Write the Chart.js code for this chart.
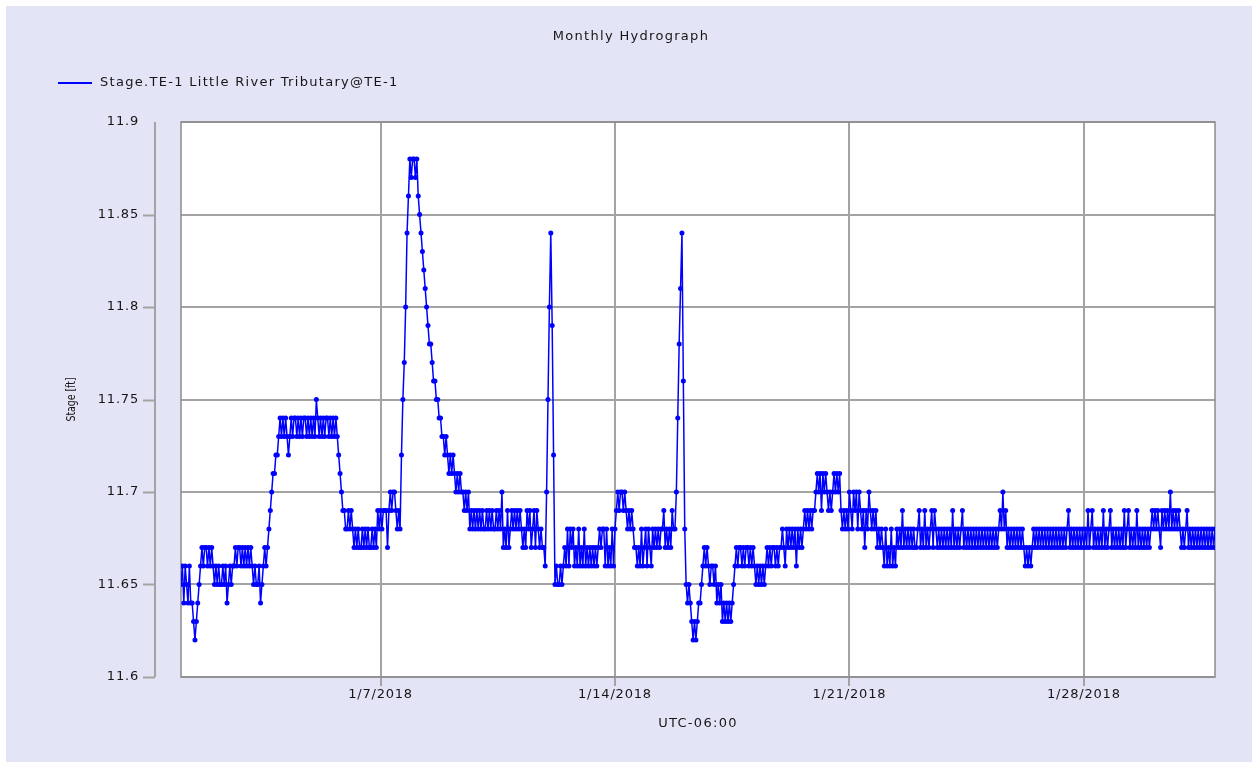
<!DOCTYPE html>
<html lang="en">
  <head>
    <meta charset="UTF-8" />
    <title>Monthly Hydrograph</title>
    <script src="https://cdn.jsdelivr.net/npm/chart.js@4"></script>
    <style>
      html,
      body {
        margin: 0;
        padding: 0;
        background: #ffffff;
      }
      #wrap {
        position: absolute;
        left: 6px;
        top: 6px;
        width: 1246px;
        height: 756px;
      }
    </style>
  </head>
  <body>
    <div id="wrap">
      <canvas id="myChart" width="1246" height="756"></canvas>
    </div>

    <script>
      const chartTitle = "Monthly Hydrograph";
      const seriesName = "Stage.TE-1 Little River Tributary@TE-1";
      const xTitle = "UTC-06:00";
      const yTitle = "Stage [ft]";

      // hourly readings, first one at 1/1/2018 01:00
      const firstHour = 1;
      const stageFt = [
        // 1/1
        11.65, 11.66, 11.64, 11.66, 11.65, 11.64, 11.66, 11.64, 11.64, 11.63, 11.62, 11.63, 11.64, 11.65, 11.66, 11.67, 11.66, 11.67, 11.67, 11.66, 11.67, 11.66, 11.67,
        // 1/2
        11.66, 11.65, 11.66, 11.65, 11.66, 11.65, 11.65, 11.66, 11.65, 11.66, 11.64, 11.65, 11.66, 11.65, 11.66, 11.66, 11.67, 11.66, 11.67, 11.67, 11.66, 11.67, 11.66, 11.67,
        // 1/3
        11.66, 11.67, 11.66, 11.67, 11.66, 11.65, 11.66, 11.65, 11.65, 11.66, 11.64, 11.65, 11.66, 11.67, 11.66, 11.67, 11.68, 11.69, 11.70, 11.71, 11.71, 11.72, 11.72, 11.73,
        // 1/4
        11.74, 11.73, 11.74, 11.73, 11.74, 11.73, 11.72, 11.73, 11.74, 11.73, 11.74, 11.74, 11.73, 11.74, 11.73, 11.74, 11.73, 11.74, 11.74, 11.73, 11.74, 11.73, 11.74, 11.73,
        // 1/5
        11.74, 11.73, 11.75, 11.74, 11.73, 11.74, 11.73, 11.74, 11.73, 11.74, 11.74, 11.73, 11.74, 11.73, 11.74, 11.73, 11.74, 11.73, 11.72, 11.71, 11.70, 11.69, 11.69, 11.68,
        // 1/6
        11.68, 11.69, 11.68, 11.69, 11.68, 11.67, 11.68, 11.67, 11.68, 11.67, 11.67, 11.68, 11.67, 11.68, 11.67, 11.68, 11.67, 11.67, 11.68, 11.67, 11.68, 11.67, 11.69, 11.68,
        // 1/7
        11.69, 11.68, 11.69, 11.69, 11.69, 11.67, 11.69, 11.70, 11.69, 11.70, 11.70, 11.69, 11.68, 11.69, 11.68, 11.72, 11.75, 11.77, 11.80, 11.84, 11.86, 11.88, 11.87, 11.88,
        // 1/8
        11.88, 11.87, 11.88, 11.86, 11.85, 11.84, 11.83, 11.82, 11.81, 11.80, 11.79, 11.78, 11.78, 11.77, 11.76, 11.76, 11.75, 11.75, 11.74, 11.74, 11.73, 11.73, 11.72, 11.73,
        // 1/9
        11.72, 11.71, 11.72, 11.71, 11.72, 11.71, 11.70, 11.71, 11.70, 11.71, 11.70, 11.70, 11.69, 11.70, 11.69, 11.70, 11.68, 11.69, 11.68, 11.69, 11.68, 11.69, 11.68, 11.69,
        // 1/10
        11.68, 11.69, 11.68, 11.68, 11.69, 11.68, 11.69, 11.68, 11.69, 11.68, 11.68, 11.69, 11.68, 11.69, 11.68, 11.70, 11.67, 11.68, 11.67, 11.69, 11.67, 11.68, 11.69, 11.68,
        // 1/11
        11.69, 11.68, 11.69, 11.68, 11.69, 11.68, 11.67, 11.68, 11.67, 11.69, 11.68, 11.69, 11.67, 11.68, 11.69, 11.67, 11.69, 11.68, 11.67, 11.68, 11.67, 11.67, 11.66, 11.70,
        // 1/12
        11.75, 11.80, 11.84, 11.79, 11.72, 11.65, 11.66, 11.65, 11.65, 11.66, 11.65, 11.66, 11.67, 11.66, 11.68, 11.66, 11.68, 11.67, 11.68, 11.66, 11.67, 11.66, 11.68, 11.66,
        // 1/13
        11.67, 11.66, 11.68, 11.66, 11.67, 11.66, 11.67, 11.66, 11.67, 11.66, 11.67, 11.66, 11.67, 11.68, 11.67, 11.68, 11.68, 11.66, 11.68, 11.66, 11.67, 11.66, 11.68, 11.66,
        // 1/14
        11.68, 11.69, 11.70, 11.69, 11.70, 11.70, 11.69, 11.70, 11.69, 11.68, 11.69, 11.68, 11.69, 11.68, 11.67, 11.67, 11.66, 11.67, 11.66, 11.68, 11.66, 11.67, 11.68, 11.66,
        // 1/15
        11.68, 11.67, 11.66, 11.68, 11.67, 11.68, 11.67, 11.68, 11.67, 11.68, 11.68, 11.69, 11.67, 11.68, 11.67, 11.68, 11.67, 11.69, 11.68, 11.68, 11.70, 11.74, 11.78, 11.81,
        // 1/16
        11.84, 11.76, 11.68, 11.65, 11.64, 11.65, 11.64, 11.63, 11.62, 11.63, 11.62, 11.63, 11.64, 11.64, 11.65, 11.66, 11.67, 11.66, 11.67, 11.66, 11.65, 11.66, 11.66, 11.65,
        // 1/17
        11.66, 11.64, 11.65, 11.64, 11.65, 11.63, 11.64, 11.63, 11.64, 11.63, 11.64, 11.63, 11.64, 11.65, 11.66, 11.67, 11.66, 11.67, 11.67, 11.66, 11.67, 11.66, 11.67, 11.67,
        // 1/18
        11.66, 11.67, 11.66, 11.67, 11.66, 11.65, 11.66, 11.65, 11.66, 11.65, 11.66, 11.65, 11.66, 11.67, 11.66, 11.67, 11.66, 11.67, 11.67, 11.66, 11.67, 11.66, 11.67, 11.67,
        // 1/19
        11.68, 11.67, 11.66, 11.68, 11.67, 11.68, 11.67, 11.68, 11.67, 11.68, 11.66, 11.68, 11.67, 11.68, 11.67, 11.68, 11.69, 11.68, 11.69, 11.68, 11.69, 11.68, 11.69, 11.69,
        // 1/20
        11.70, 11.71, 11.70, 11.71, 11.69, 11.71, 11.70, 11.71, 11.70, 11.69, 11.70, 11.69, 11.70, 11.71, 11.70, 11.71, 11.70, 11.71, 11.69, 11.68, 11.69, 11.68, 11.69, 11.68,
        // 1/21
        11.70, 11.69, 11.68, 11.70, 11.69, 11.70, 11.68, 11.70, 11.69, 11.68, 11.69, 11.67, 11.69, 11.68, 11.70, 11.69, 11.68, 11.69, 11.68, 11.69, 11.67, 11.68, 11.67, 11.68,
        // 1/22
        11.67, 11.66, 11.68, 11.66, 11.67, 11.66, 11.68, 11.66, 11.67, 11.66, 11.68, 11.67, 11.68, 11.67, 11.69, 11.67, 11.68, 11.67, 11.68, 11.67, 11.68, 11.67, 11.68, 11.67,
        // 1/23
        11.67, 11.68, 11.69, 11.67, 11.68, 11.67, 11.69, 11.67, 11.68, 11.67, 11.68, 11.69, 11.67, 11.69, 11.68, 11.67, 11.68, 11.67, 11.68, 11.67, 11.68, 11.67, 11.68, 11.67,
        // 1/24
        11.68, 11.67, 11.69, 11.67, 11.68, 11.67, 11.68, 11.67, 11.68, 11.69, 11.67, 11.68, 11.67, 11.68, 11.67, 11.68, 11.67, 11.68, 11.67, 11.68, 11.67, 11.68, 11.67, 11.68,
        // 1/25
        11.67, 11.68, 11.67, 11.68, 11.67, 11.68, 11.67, 11.68, 11.67, 11.68, 11.67, 11.68, 11.69, 11.68, 11.70, 11.68, 11.69, 11.67, 11.68, 11.67, 11.68, 11.67, 11.68, 11.67,
        // 1/26
        11.68, 11.67, 11.68, 11.67, 11.68, 11.67, 11.66, 11.67, 11.66, 11.67, 11.66, 11.67, 11.68, 11.67, 11.68, 11.67, 11.68, 11.67, 11.68, 11.67, 11.68, 11.67, 11.68, 11.67,
        // 1/27
        11.68, 11.67, 11.68, 11.67, 11.68, 11.67, 11.68, 11.67, 11.68, 11.67, 11.68, 11.67, 11.68, 11.69, 11.67, 11.68, 11.67, 11.68, 11.67, 11.68, 11.67, 11.68, 11.67, 11.68,
        // 1/28
        11.67, 11.68, 11.67, 11.69, 11.67, 11.68, 11.69, 11.67, 11.68, 11.67, 11.68, 11.67, 11.68, 11.67, 11.69, 11.67, 11.68, 11.67, 11.68, 11.69, 11.67, 11.68, 11.67, 11.68,
        // 1/29
        11.67, 11.68, 11.67, 11.68, 11.67, 11.69, 11.67, 11.68, 11.69, 11.67, 11.68, 11.67, 11.68, 11.67, 11.69, 11.67, 11.68, 11.67, 11.68, 11.67, 11.68, 11.67, 11.68, 11.67,
        // 1/30
        11.68, 11.69, 11.68, 11.69, 11.68, 11.69, 11.68, 11.67, 11.69, 11.68, 11.69, 11.68, 11.69, 11.68, 11.70, 11.68, 11.69, 11.68, 11.69, 11.68, 11.69, 11.68, 11.67, 11.68,
        // 1/31
        11.67, 11.68, 11.69, 11.67, 11.68, 11.67, 11.68, 11.67, 11.68, 11.67, 11.68, 11.67, 11.68, 11.67, 11.68, 11.67, 11.68, 11.67, 11.68, 11.67, 11.68, 11.67, 11.68,
      ];

      // x axis is in days since 1/1/2018 00:00
      const tickDays = [6, 13, 20, 27];
      const tickLabels = ["1/7/2018", "1/14/2018", "1/21/2018", "1/28/2018"];
      const yMin = 11.6;
      const yMax = 11.9;
      const yStep = 0.05;

      const points = stageFt.map((v, i) => ({ x: (firstHour + i) / 24, y: v }));
      const lastDay = (firstHour + stageFt.length - 1) / 24;

      const TEXT = "#161616";
      const GRID = "#a3a3a3";
      const FONT = "DejaVu Sans, Liberation Sans, sans-serif";

      // background, plot box, separate y axis line, title, legend, axis titles
      const hydroFrame = {
        id: "hydroFrame",
        beforeDraw(chart) {
          const { ctx, width, height, chartArea: a } = chart;
          ctx.save();
          ctx.fillStyle = "#e4e4f7";
          ctx.fillRect(0, 0, width, height);
          ctx.fillStyle = "#ffffff";
          ctx.fillRect(a.left, a.top, a.right - a.left, a.bottom - a.top);
          ctx.restore();
          // the reference text is set a little wide
          ctx.letterSpacing = "0.8px";
        },
        beforeDatasetsDraw(chart) {
          const { ctx, chartArea: a } = chart;
          ctx.save();
          ctx.strokeStyle = "#8c8c8c";
          ctx.lineWidth = 1.5;
          ctx.strokeRect(a.left, a.top, a.right - a.left, a.bottom - a.top);
          ctx.restore();
        },
        afterDraw(chart) {
          const { ctx, width, chartArea: a } = chart;
          const yScale = chart.scales.y;
          ctx.save();

          // y axis line, standing apart from the plot box
          const axisX = a.left - 26;
          ctx.strokeStyle = GRID;
          ctx.lineWidth = 2;
          ctx.beginPath();
          ctx.moveTo(axisX, a.top);
          ctx.lineTo(axisX, a.bottom);
          yScale.ticks.forEach((t) => {
            if (t.value >= yMax - 1e-9) return;
            const py = Math.round(yScale.getPixelForValue(t.value)) + 0.5;
            ctx.moveTo(axisX - 12, py);
            ctx.lineTo(axisX, py);
          });
          ctx.stroke();

          ctx.fillStyle = TEXT;
          ctx.textBaseline = "middle";
          ctx.letterSpacing = "1.3px";

          // title
          ctx.font = `13px ${FONT}`;
          ctx.textAlign = "center";
          ctx.fillText(chartTitle, width / 2 + 2, 31);

          // legend
          ctx.strokeStyle = "#0000ff";
          ctx.lineWidth = 2;
          ctx.beginPath();
          ctx.moveTo(52, 77);
          ctx.lineTo(86, 77);
          ctx.stroke();
          ctx.textAlign = "left";
          ctx.fillText(seriesName, 94, 77);

          // x axis title
          ctx.textAlign = "center";
          ctx.fillText(xTitle, (a.left + a.right) / 2, 718);

          // y axis title, condensed
          ctx.letterSpacing = "0px";
          ctx.font = `12px ${FONT}`;
          ctx.translate(66, (a.top + a.bottom) / 2);
          ctx.rotate(-Math.PI / 2);
          ctx.scale(0.78, 1);
          ctx.fillText(yTitle, 0, 0);

          ctx.restore();
        },
      };

      const ctx = document.getElementById("myChart").getContext("2d");

      new Chart(ctx, {
        type: "line",
        data: {
          datasets: [
            {
              label: seriesName,
              data: points,
              borderColor: "#0000ff",
              backgroundColor: "#0000ff",
              borderWidth: 1.5,
              pointRadius: 2.5,
              pointBorderWidth: 0,
              pointBackgroundColor: "#0000ff",
              tension: 0,
            },
          ],
        },
        options: {
          responsive: false,
          animation: false,
          parsing: false,
          layout: { padding: { top: 116, right: 37, left: 0, bottom: 0 } },
          plugins: {
            legend: { display: false },
            title: { display: false },
            tooltip: { enabled: false },
          },
          scales: {
            x: {
              type: "linear",
              min: firstHour / 24,
              max: lastDay,
              afterBuildTicks(scale) {
                scale.ticks = tickDays.map((d) => ({ value: d }));
              },
              afterFit(scale) {
                scale.height = 85;
              },
              ticks: {
                autoSkip: false,
                maxRotation: 0,
                padding: 1,
                color: TEXT,
                font: { family: FONT, size: 13 },
                callback: (v) => tickLabels[tickDays.indexOf(v)],
              },
              grid: { color: GRID, lineWidth: 2, tickLength: 9, drawTicks: true },
              border: { display: false },
            },
            y: {
              min: yMin,
              max: yMax,
              afterFit(scale) {
                scale.width = 175;
              },
              ticks: {
                stepSize: yStep,
                padding: 42,
                color: TEXT,
                font: { family: FONT, size: 13 },
                callback: (v) => String(Number(v.toFixed(2))),
              },
              grid: { color: GRID, lineWidth: 2, drawTicks: false },
              border: { display: false },
            },
          },
        },
        plugins: [hydroFrame],
      });
    </script>
  </body>
</html>
